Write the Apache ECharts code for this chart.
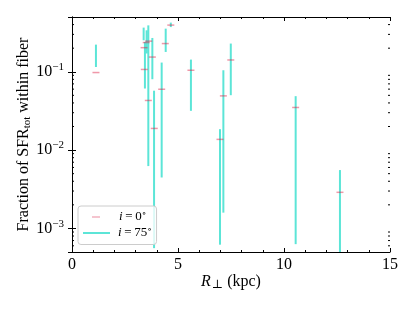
<!DOCTYPE html>
<html><head><meta charset="utf-8">
<script src="https://cdn.jsdelivr.net/npm/echarts@6/dist/echarts.min.js"></script>
<style>html,body{margin:0;padding:0;background:#fff}#c{width:415px;height:311px}</style>
</head><body><div id="c"></div>
<script>
// i = 0 deg values (dash markers)
const dashX = [1.13, 3.40, 3.50, 3.62, 3.41, 3.79, 3.60, 3.88, 4.23, 4.40, 4.66, 5.61, 7.14, 7.49, 6.98, 10.55, 12.64];
const dashY = [0.0977, 0.203, 0.236, 0.246, 0.107, 0.154, 0.0430, 0.0189, 0.0598, 0.229, 0.394, 0.1045, 0.0492, 0.1414, 0.0137, 0.035, 0.00289];
// i = 75 deg ranges (vertical bars)
const barX = [1.13, 3.38, 3.44, 3.52, 3.60, 3.79, 3.87, 4.23, 4.42, 4.66, 5.61, 6.98, 7.14, 7.49, 10.55, 12.64];
const barHigh = [0.222, 0.366, 0.240, 0.338, 0.391, 0.270, 0.0573, 0.131, 0.355, 0.424, 0.143, 0.0185, 0.1045, 0.229, 0.0488, 0.00556];
const barLow = [0.115, 0.252, 0.0611, 0.171, 0.00625, 0.0803, 0.00056, 0.00447, 0.179, 0.372, 0.0317, 0.00062, 0.00159, 0.0502, 0.00063, 0.0004];
// axes
const xMin = 0, xMax = 15, xInterval = 5;
const yMin = 5e-4, yMax = 0.5;
const yMinorTicks = [];
for (let e = -4; e <= -1; e++) for (let m = 2; m <= 9; m++) { const v = m * Math.pow(10, e); if (v > yMin && v < yMax) yMinorTicks.push(v); }

const FONT = '"Liberation Serif", "DejaVu Serif", serif';
const FS = 16;
const PINK = 'rgba(220,20,60,0.55)';
const TURQ = 'rgba(64,224,208,0.85)';

const chart = echarts.init(document.getElementById('c'), null, {renderer: 'canvas'});
const supRich = {
  b: {fontFamily: FONT, fontSize: FS, color: '#000'},
  s: {fontFamily: FONT, fontSize: 11, color: '#000', padding: [0, 0, 9, 0]}
};
const tickStyle = {show: true, inside: true, length: 4, lineStyle: {color: '#000', width: 1}};
const minorStyle = {show: true, splitNumber: 5, length: 2, lineStyle: {color: '#000', width: 1}};
const legRich = {
  it: {fontFamily: FONT, fontStyle: 'italic', fontSize: 13, color: '#000'},
  n: {fontFamily: FONT, fontSize: 13, color: '#000'},
  d: {fontFamily: FONT, fontSize: 9, color: '#000', padding: [0, 0, 7, 0]}
};

chart.setOption({
  animation: false,
  grid: {left: 72, right: 25, top: 17, bottom: 59},
  xAxis: [{
    type: 'value', min: xMin, max: xMax, interval: xInterval,
    axisLine: {lineStyle: {color: '#000', width: 1}},
    axisTick: tickStyle, minorTick: minorStyle, splitLine: {show: false},
    axisLabel: {fontFamily: FONT, fontSize: FS, color: '#000', margin: 5},
    name: '{i|R}{sub|⊥}{a| (kpc)}', nameLocation: 'middle', nameGap: 20, nameMoveOverlap: false,
    nameTextStyle: {rich: {
      i: {fontFamily: FONT, fontStyle: 'italic', fontSize: FS, color: '#000'},
      sub: {fontFamily: FONT, fontSize: 12, color: '#000', padding: [7, 0, 0, 1]},
      a: {fontFamily: FONT, fontSize: FS, color: '#000'}
    }}
  }, {
    type: 'value', min: xMin, max: xMax, interval: xInterval, position: 'top',
    axisLine: {show: true, lineStyle: {color: '#000', width: 1}},
    axisTick: tickStyle, minorTick: minorStyle, splitLine: {show: false},
    axisLabel: {show: false}
  }],
  yAxis: [{
    type: 'log', min: yMin, max: yMax, logBase: 10,
    axisLine: {show: true, lineStyle: {color: '#000', width: 1}},
    axisTick: tickStyle, splitLine: {show: false},
    axisLabel: {
      showMinLabel: false, showMaxLabel: false, margin: 8,
      formatter: v => '{b|10}{s|−' + Math.round(-Math.log10(v)) + '}',
      rich: supRich
    },
    name: '{a|Fraction of SFR}{sub|tot}{a| within fiber}', nameLocation: 'middle', nameGap: 39, nameMoveOverlap: false,
    nameTextStyle: {rich: {
      a: {fontFamily: FONT, fontSize: FS, color: '#000'},
      sub: {fontFamily: FONT, fontSize: 11, color: '#000', padding: [7, 0, 0, 0]}
    }}
  }, {
    type: 'log', min: yMin, max: yMax, logBase: 10, position: 'right',
    axisLine: {show: true, lineStyle: {color: '#000', width: 1}},
    axisTick: tickStyle, splitLine: {show: false},
    axisLabel: {show: false}
  }],
  legend: [{
    data: [{name: 'i75', icon: 'rect'}],
    orient: 'vertical', left: 78, top: 206,
    padding: [19, 5, 5, 5],
    itemWidth: 27, itemHeight: 2,
    backgroundColor: 'rgba(255,255,255,0.8)', borderColor: '#cccccc', borderWidth: 1, borderRadius: 3,
    itemStyle: {color: TURQ},
    formatter: () => '{it|i}{n|\u2009=\u200975}{d|∘}',
    textStyle: {rich: legRich, padding: [0, 0, 0, 3]}
  }, {
    data: [{name: 'i0', icon: 'rect'}],
    orient: 'vertical', left: 92, top: 206, padding: [3, 0, 0, 0], z: 10,
    itemWidth: 8, itemHeight: 2,
    itemStyle: {color: 'rgba(230,110,135,0.5)'},
    formatter: () => '{it|i}{n|\u2009=\u20090}{d|∘}',
    textStyle: {rich: legRich, padding: [0, 0, 0, 14]}
  }],
  series: [{
    name: 'i75', type: 'custom', clip: true, z: 2,
    itemStyle: {color: TURQ},
    data: barX.map((x, i) => [x, barLow[i], barHigh[i]]),
    encode: {x: 0, y: [1, 2]},
    renderItem: (params, api) => {
      const a = api.coord([api.value(0), api.value(1)]);
      const b = api.coord([api.value(0), api.value(2)]);
      return {type: 'line', shape: {x1: a[0], y1: a[1], x2: b[0], y2: b[1]},
        style: {stroke: TURQ, lineWidth: 2}};
    }
  }, {
    name: 'i0', type: 'scatter', z: 3,
    symbol: 'rect', symbolSize: [7, 1.5],
    itemStyle: {color: PINK},
    data: dashX.map((x, i) => [x, dashY[i]])
  }, {
    name: 'minor', type: 'custom', silent: true, z: 5,
    data: yMinorTicks.map(v => [xMin, v]),
    renderItem: (params, api) => {
      const cs = params.coordSys;
      const y = api.coord([xMin, api.value(1)])[1];
      return {type: 'group', children: [
        {type: 'line', shape: {x1: cs.x, y1: y, x2: cs.x + 2, y2: y}, style: {stroke: '#000', lineWidth: 1}},
        {type: 'line', shape: {x1: cs.x + cs.width - 2, y1: y, x2: cs.x + cs.width, y2: y}, style: {stroke: '#000', lineWidth: 1}}
      ]};
    }
  }]
});
</script></body></html>
